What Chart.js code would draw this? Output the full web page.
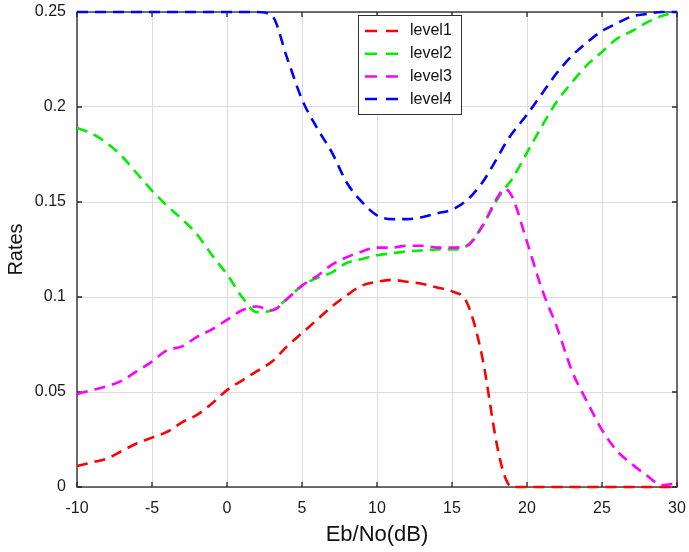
<!DOCTYPE html>
<html>
<head>
<meta charset="utf-8">
<script src="https://cdn.jsdelivr.net/npm/chart.js@4.4.0/dist/chart.umd.min.js"></script>
<style>
  html, body { margin: 0; padding: 0; background: #fff; }
  #wrap { width: 689px; height: 552px; }
</style>
</head>
<body>
<div id="wrap"><canvas id="rates" width="689" height="552"></canvas></div>
<script>
// Eb/No (dB) sample points
const ebno = [-10, -9, -8, -7, -6, -5, -4, -3, -2, -1,
    0, 1, 2, 3, 4, 5, 6, 7, 8, 9,
    10, 11, 12, 13, 14, 15, 16, 17, 18, 18.5,
    19, 20, 21, 22, 23, 24, 25, 26, 27, 28, 29, 30];

const level1 = [0.011, 0.013, 0.015, 0.019, 0.023, 0.026, 0.029, 0.034, 0.038, 0.044,
    0.051, 0.056, 0.061, 0.066, 0.074, 0.081, 0.088, 0.095, 0.101, 0.106,
    0.108, 0.109, 0.108, 0.107, 0.105, 0.103, 0.097, 0.069, 0.022, 0.006,
    0, 0, 0, 0, 0, 0, 0, 0, 0, 0, 0, 0];
const level2 = [0.189, 0.186, 0.181, 0.174, 0.165, 0.156, 0.148, 0.141, 0.133, 0.122,
    0.112, 0.100, 0.092, 0.093, 0.099, 0.106, 0.110, 0.113, 0.118, 0.120,
    0.122, 0.123, 0.124, 0.1245, 0.125, 0.125, 0.127, 0.137, 0.151, 0.157,
    0.162, 0.176, 0.190, 0.203, 0.213, 0.222, 0.229, 0.236, 0.240, 0.2445, 0.248, 0.25];
const level3 = [0.049, 0.051, 0.053, 0.056, 0.061, 0.066, 0.072, 0.074, 0.079, 0.083,
    0.088, 0.093, 0.095, 0.093, 0.099, 0.106, 0.111, 0.117, 0.121, 0.124,
    0.126, 0.126, 0.127, 0.127, 0.126, 0.126, 0.127, 0.137, 0.152, 0.157,
    0.153, 0.129, 0.104, 0.084, 0.061, 0.045, 0.030, 0.019, 0.012, 0.006, 0.001, 0.002];
const level4 = [0.25, 0.25, 0.25, 0.25, 0.25, 0.25, 0.25, 0.25, 0.25, 0.25,
    0.25, 0.25, 0.25, 0.248, 0.226, 0.204, 0.189, 0.176, 0.160, 0.150,
    0.143, 0.141, 0.141, 0.142, 0.144, 0.146, 0.151, 0.160, 0.173, 0.180,
    0.186, 0.196, 0.207, 0.218, 0.227, 0.234, 0.240, 0.244, 0.2477, 0.249, 0.25, 0.25];

const xTicks = [-10, -5, 0, 5, 10, 15, 20, 25, 30];
const yTicks = [0, 0.05, 0.1, 0.15, 0.2, 0.25];

const seriesNames = ['level1', 'level2', 'level3', 'level4'];
const seriesColors = ['#ff0000', '#00ee00', '#ff00ff', '#0000ff'];
const seriesData = [level1, level2, level3, level4];

const DASH = [11, 7];
const FONT = 'Liberation Sans, Arial, Helvetica, sans-serif';

function pts(ys) {
    return ebno.map((x, i) => ({x: x, y: ys[i]}));
}

// box around the axes + inward ticks (under the curves), legend on top
const matlabBox = {
    id: 'matlabBox',
    beforeDatasetsDraw(chart) {
        const {ctx, chartArea: a, scales} = chart;
        ctx.save();
        ctx.strokeStyle = '#262626';
        ctx.lineWidth = 1.3;
        ctx.strokeRect(a.left, a.top, a.right - a.left, a.bottom - a.top);
        ctx.beginPath();
        xTicks.forEach(v => {
            const px = scales.x.getPixelForValue(v);
            ctx.moveTo(px, a.bottom); ctx.lineTo(px, a.bottom - 5);
            ctx.moveTo(px, a.top); ctx.lineTo(px, a.top + 5);
        });
        yTicks.forEach(v => {
            const py = scales.y.getPixelForValue(v);
            ctx.moveTo(a.left, py); ctx.lineTo(a.left + 5, py);
            ctx.moveTo(a.right, py); ctx.lineTo(a.right - 5, py);
        });
        ctx.stroke();
        ctx.restore();
    },
    afterDraw(chart) {
        const {ctx, chartArea: a} = chart;
        ctx.save();
        const lx = a.left + 281, ly = a.top + 3, lw = 103, lh = 99;
        ctx.fillStyle = '#fff';
        ctx.fillRect(lx, ly, lw, lh);
        ctx.strokeStyle = '#333';
        ctx.lineWidth = 1;
        ctx.strokeRect(lx + 0.5, ly + 0.5, lw, lh);
        ctx.font = '16px ' + FONT;
        ctx.textBaseline = 'middle';
        ctx.textAlign = 'left';
        seriesNames.forEach((name, i) => {
            const y = ly + 16 + i * 22.7;
            ctx.strokeStyle = seriesColors[i];
            ctx.lineWidth = 2.5;
            ctx.setLineDash([12, 9]);
            ctx.beginPath();
            ctx.moveTo(lx + 7, y);
            ctx.lineTo(lx + 40, y);
            ctx.stroke();
            ctx.setLineDash([]);
            ctx.fillStyle = '#111';
            ctx.fillText(name, lx + 52, y);
        });
        ctx.restore();
    }
};

const ctx = document.getElementById('rates').getContext('2d');
const chart = new Chart(ctx, {
    type: 'line',
    data: {
        datasets: seriesNames.map((name, i) => ({
            label: name,
            data: pts(seriesData[i]),
            borderColor: seriesColors[i],
            backgroundColor: seriesColors[i],
            borderWidth: 2.6,
            borderDash: DASH,
            pointRadius: 0,
            fill: false,
            cubicInterpolationMode: 'monotone',
            clip: false,
            order: 4 - i
        }))
    },
    options: {
        responsive: false,
        animation: false,
        layout: {
            padding: {left: 0, right: 12, top: 12, bottom: 0}
        },
        plugins: {
            legend: {display: false},
            tooltip: {enabled: false}
        },
        scales: {
            x: {
                type: 'linear',
                min: -10,
                max: 30,
                afterBuildTicks: s => { s.ticks = xTicks.map(v => ({value: v})); },
                afterFit: s => {
                    s.height = 65;
                    s.paddingLeft = 0;
                    s.paddingRight = 0;
                },
                grid: {color: '#dcdcdc', lineWidth: 1, drawTicks: false},
                border: {display: false},
                ticks: {
                    color: '#1a1a1a',
                    padding: 12,
                    maxRotation: 0,
                    font: {family: FONT, size: 16}
                },
                title: {
                    display: true,
                    text: 'Eb/No(dB)',
                    color: '#111',
                    font: {family: FONT, size: 22},
                    padding: {top: 0, bottom: 4}
                }
            },
            y: {
                type: 'linear',
                min: 0,
                max: 0.25,
                afterBuildTicks: s => { s.ticks = yTicks.map(v => ({value: v})); },
                afterFit: s => {
                    s.width = 77;
                    s.paddingTop = 0;
                    s.paddingBottom = 0;
                },
                grid: {color: '#dcdcdc', lineWidth: 1, drawTicks: false},
                border: {display: false},
                ticks: {
                    color: '#1a1a1a',
                    padding: 11,
                    font: {family: FONT, size: 16},
                    callback: v => String(v)
                },
                title: {
                    display: true,
                    text: 'Rates',
                    color: '#111',
                    font: {family: FONT, size: 20},
                    padding: {top: 4, bottom: 0}
                }
            }
        }
    },
    plugins: [matlabBox]
});
</script>
</body>
</html>
